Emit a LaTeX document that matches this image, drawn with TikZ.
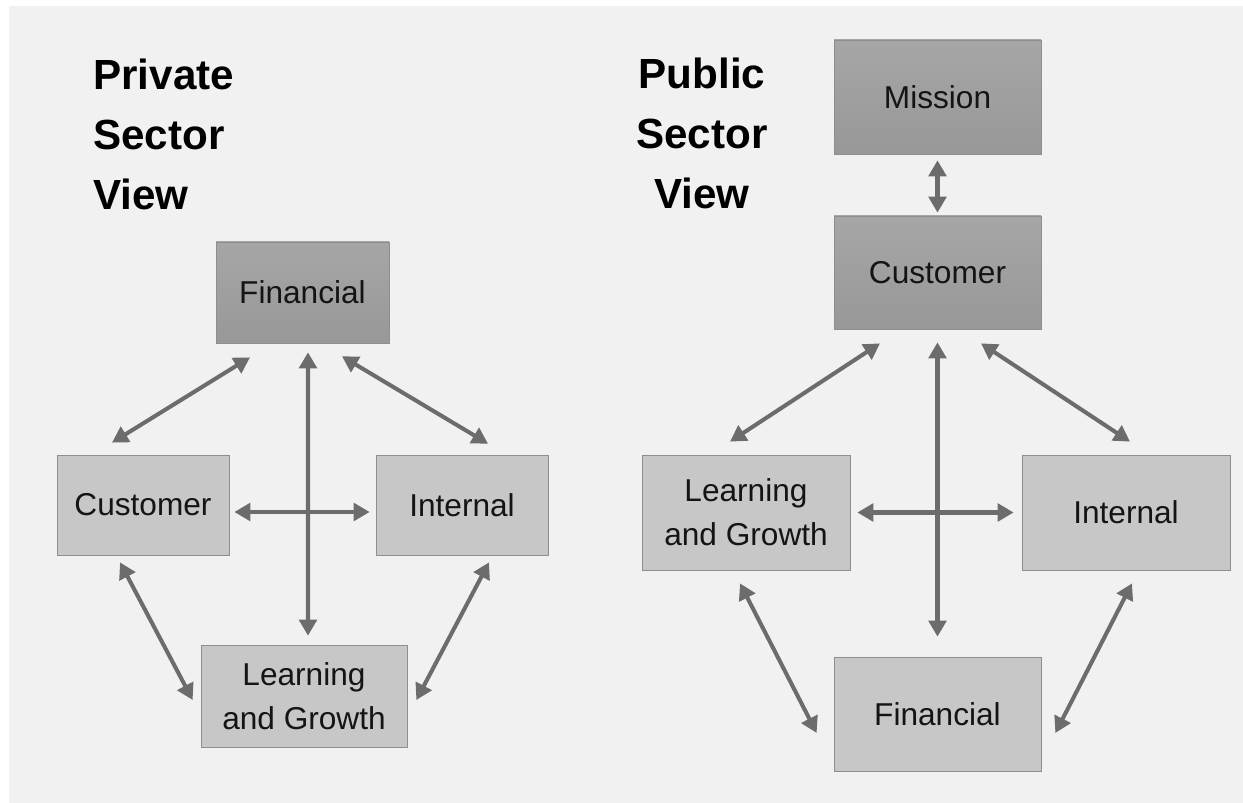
\documentclass[tikz,border=0pt]{standalone}
\usepackage{fontspec}
\setmainfont{Liberation Sans}
\usetikzlibrary{arrows.meta,calc,positioning}

\definecolor{bggray}{HTML}{F1F1F1}
\definecolor{boxfill}{HTML}{C7C7C7}
\definecolor{boxline}{HTML}{8E8E8E}
\definecolor{boxtext}{HTML}{141414}
\definecolor{shadetop}{HTML}{A6A6A6}
\definecolor{shademid}{HTML}{C2C2C2}
\definecolor{shadebot}{HTML}{989898}
\definecolor{linkgray}{HTML}{6C6C6C}

\begin{document}
\begin{tikzpicture}[x=0.02cm,y=-0.02cm,
  boxsize/.style 2 args={minimum width=#1*0.02cm,minimum height=#2*0.02cm},
  box/.style={draw=boxline,fill=boxfill,inner sep=0pt,align=center,
    text=boxtext,font=\fontsize{18}{25}\selectfont},
  shadebox/.style={box,top color=shadetop,middle color=shademid,bottom color=shadebot},
  link/.style={draw=linkgray,line width=2.3pt,
    {Triangle[length=0.32cm,width=0.35cm]}-{Triangle[length=0.32cm,width=0.35cm]}},
  heading/.style={inner sep=0pt,font=\fontsize{24}{34}\selectfont\bfseries}]

  \useasboundingbox (0,0) rectangle (1243,803);
  \fill[bggray] (9,6) rectangle (1243,803);

  % private sector
  \node[heading,anchor=north west,align=left] (privhead) at (93,59) {Private\\Sector\\View};

  \node[shadebox,boxsize={173}{101}] (lfin) at (302.5,292.5) {Financial};
  \node[box,boxsize={172}{100}] (lcus) at (143,505) {Customer};
  \node[box,boxsize={172}{100}] (lint) at (462,505) {Internal};
  \node[box,boxsize={206}{102}] (llg) at (304,696) {Learning\\and Growth};

  \draw[link] ($(lfin.south)+(-52.5,14)$) -- ($(lcus.north)+(-31,-12)$);
  \draw[link] ($(lfin.south)+(39.5,13)$) -- ($(lint.north)+(26,-11)$);
  \draw[link] ($(lfin.south)+(5.5,9)$) -- ($(llg.north)+(4,-9)$);
  \draw[link] ($(lcus.east)+(5,7)$) -- ($(lint.west)+(-6,7)$);
  \draw[link] ($(lcus.south)+(-23,7)$) -- ($(llg.west)+(-8,4)$);
  \draw[link] ($(lint.south)+(27,7)$) -- ($(llg.east)+(9,4)$);

  % public sector
  \node[heading,anchor=north,align=center] (pubhead) at (702,58) {Public\\Sector\\View};

  \node[shadebox,boxsize={207}{114}] (rmis) at (937.5,97) {Mission};
  \node[shadebox,boxsize={207}{113}] (rcus) at (937.5,272.5) {Customer};
  \node[box,boxsize={208}{115}] (rlg) at (746,512.5) {Learning\\and Growth};
  \node[box,boxsize={208}{115}] (rint) at (1126,512.5) {Internal};
  \node[box,boxsize={207}{114}] (rfin) at (937.5,714) {Financial};

  \draw[link] ($(rmis.south)+(0,6)$) -- ($(rcus.north)+(0,-3)$);
  \draw[link] ($(rcus.south)+(-57.5,14)$) -- ($(rlg.north)+(-16,-13)$);
  \draw[link] ($(rcus.south)+(43.5,14)$) -- ($(rint.north)+(4,-13)$);
  \draw[link] ($(rcus.south)+(0,13)$) -- ($(rfin.north)+(0,-20)$);
  \draw[link] ($(rlg.east)+(7,0)$) -- ($(rint.west)+(-8,0)$);
  \draw[link] ($(rlg.south)+(-6,13)$) -- ($(rfin.west)+(-17,19)$);
  \draw[link] ($(rint.south)+(6,13)$) -- ($(rfin.east)+(14,19)$);
\end{tikzpicture}
\end{document}
